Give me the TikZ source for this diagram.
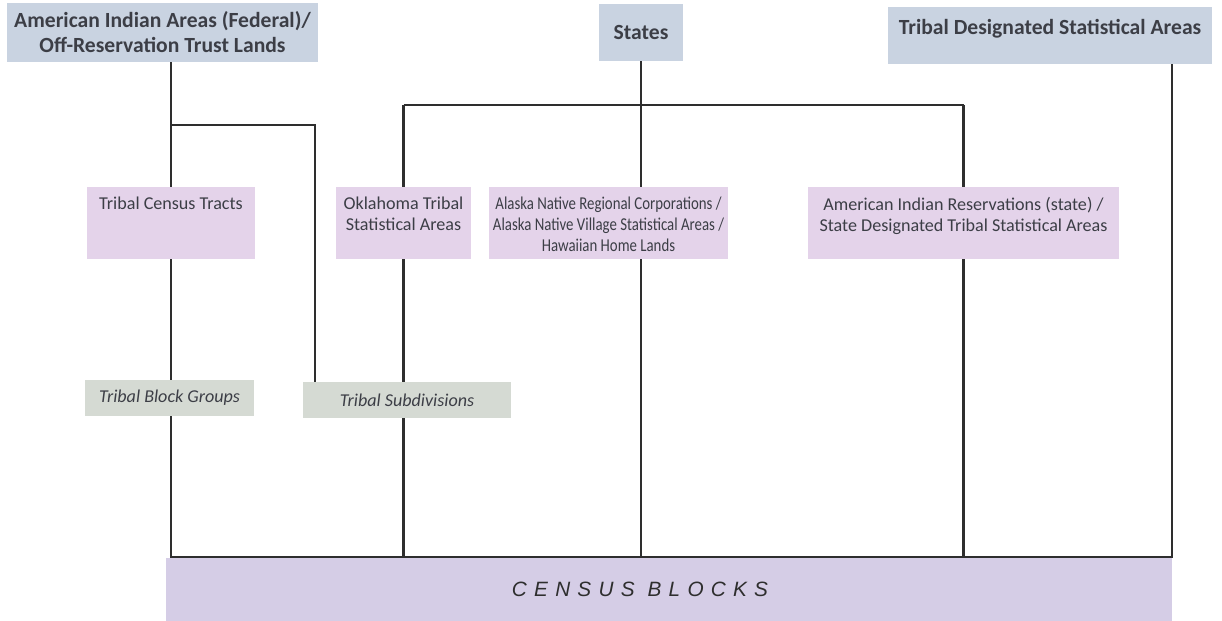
\documentclass[tikz,border=0pt]{standalone}
\usepackage{fontspec}
\setmainfont{Carlito}
\newfontfamily\narrowfont[FakeStretch=0.82]{Carlito}
\newfontfamily\blockfont[LetterSpace=35]{Liberation Sans}
\usetikzlibrary{positioning}
\usetikzlibrary{backgrounds}

\definecolor{areablue}{HTML}{C9D3E1}
\definecolor{tractpink}{HTML}{E4D3EA}
\definecolor{groupgreen}{HTML}{D5DAD3}
\definecolor{blockviolet}{HTML}{D5CDE6}
\definecolor{linegray}{HTML}{2E2E2E}
\definecolor{inkgray}{HTML}{3C3E46}

\begin{document}
\begin{tikzpicture}[x=0.02cm, y=-0.02cm]
  \tikzset{
    areabox/.style={fill=areablue, inner sep=0pt, text=inkgray, align=center,
      font=\bfseries\fontsize{12.3}{14.2}\selectfont},
    areatext/.style={inner sep=0pt, text=inkgray, align=center,
      font=\bfseries\fontsize{12.3}{14.2}\selectfont},
    tractbox/.style={fill=tractpink, inner sep=0pt, minimum height=1.44cm},
    tracttext/.style={inner sep=0pt, align=center, text=inkgray,
      font=\fontsize{10.3}{12}\selectfont},
    groupbox/.style={fill=groupgreen, inner sep=0pt, minimum height=0.72cm,
      text=inkgray, font=\itshape\fontsize{10.3}{12}\selectfont},
    link/.style={draw=linegray, line width=1.2pt},
  }
  \useasboundingbox (0,0) rectangle (1222,621);

  % top level
  \node[areabox, minimum width=6.22cm, minimum height=1.18cm] (aia) at (162.5,32.5)
    {American Indian Areas (Federal)/\\Off-Reservation Trust Lands};
  \node[areabox, minimum width=1.68cm, minimum height=1.14cm] (states) at (641,32.5) {States};
  \node[areabox, minimum width=6.48cm, minimum height=1.14cm] (tdsa) at (1050,35.5) {};
  \node[areatext, below=0.24cm of tdsa.north] {Tribal Designated Statistical Areas};

  % second level
  \node[tractbox, minimum width=3.36cm] (tct) at (171,223) {};
  \node[tracttext, below=0.2cm of tct.north] {Tribal Census Tracts};
  \node[tractbox, minimum width=2.7cm] (okl) at (403.5,223) {};
  \node[tracttext, below=0.2cm of okl.north] {Oklahoma Tribal\\Statistical Areas};
  \node[tractbox, minimum width=4.78cm] (ak) at (608.5,223) {};
  \node[tracttext, below=0.2cm of ak.north] {\narrowfont Alaska Native Regional Corporations /\\
    \narrowfont Alaska Native Village Statistical Areas /\\\narrowfont Hawaiian Home Lands};
  \node[tractbox, minimum width=6.22cm] (air) at (963.5,223) {};
  \node[tracttext, below=0.2cm of air.north] {American Indian Reservations (state) /\\
    State Designated Tribal Statistical Areas};

  % third level
  \node[groupbox, minimum width=3.38cm] (tbg) at (169.5,398) {Tribal Block Groups};
  \node[groupbox, minimum width=4.16cm] (tsub) at (407,400) {Tribal Subdivisions};

  % bottom
  \node[fill=blockviolet, inner sep=0pt, minimum width=20.12cm, minimum height=1.26cm]
    (cb) at (669,589.5) {};
  \node[inner sep=0pt, text=linegray, font=\fontsize{11.8}{13}\selectfont]
    at (640,589.5) {\blockfont\itshape CENSUS BLOCKS};

  \coordinate (fork) at (315,125);
  \coordinate (bus) at (404,105);

  \begin{scope}[on background layer]
    \draw[link] (tct.north |- aia.south) -- (tct.north |- cb.north);
    \draw[link] (tct.north |- fork) -- (fork) -- (fork |- tsub.north);
    \draw[link] (states.south) -- (states.south |- cb.north);
    \draw[link] (okl.north |- bus) -- (air.north |- bus);
    \draw[link] (okl.north |- bus) -- (okl.north |- cb.north);
    \draw[link] (air.north |- bus) -- (air.north |- cb.north);
    \draw[link] (cb.north east |- tdsa.south) -- (cb.north east);
  \end{scope}
  \draw[link] ([yshift=0.5pt]tct.north |- cb.north) -- ([yshift=0.5pt]cb.north east);
\end{tikzpicture}
\end{document}
